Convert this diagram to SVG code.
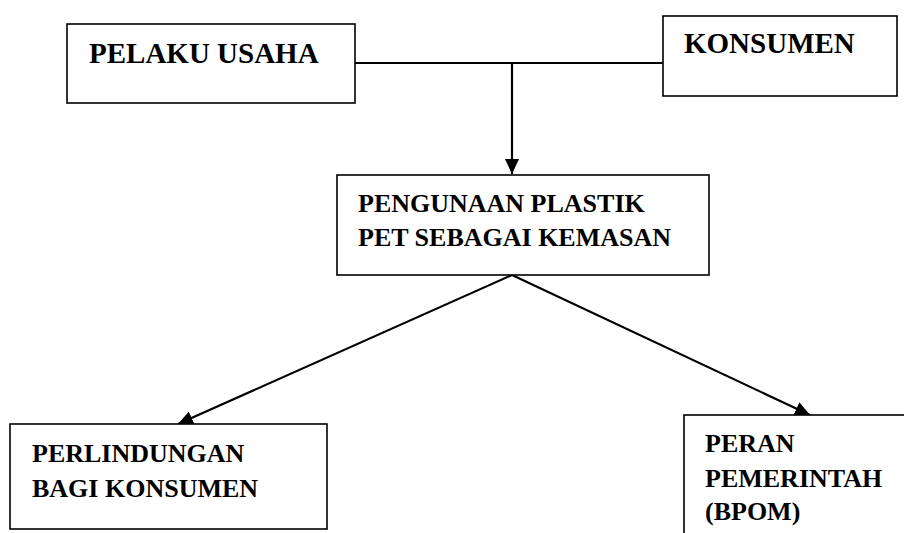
<svg xmlns="http://www.w3.org/2000/svg" width="904" height="533" viewBox="0 0 904 533">
<defs>
<style>
.box{fill:#fff;stroke:#000;stroke-width:1.6}
.t{font-family:"Liberation Serif","Times New Roman",serif;font-weight:bold;fill:#000}
.c{fill:none;stroke:#000;stroke-width:2.2}
</style>
<marker id="ah" viewBox="0 0 15 14" refX="15" refY="7" markerWidth="15" markerHeight="14" markerUnits="userSpaceOnUse" orient="auto">
<path d="M0,0 L15,7 L0,14 Z" fill="#000"/>
</marker>
</defs>
<rect width="904" height="533" fill="#fff"/>
<g id="connectors">
<line class="c" x1="355" y1="63" x2="663" y2="63"/>
<line class="c" x1="512" y1="63" x2="512" y2="174" marker-end="url(#ah)"/>
<line class="c" x1="512" y1="275" x2="178" y2="424" marker-end="url(#ah)"/>
<line class="c" x1="512" y1="275" x2="810" y2="415" marker-end="url(#ah)"/>
</g>
<g id="pelaku">
<rect class="box" x="67" y="24" width="288" height="79"/>
<text class="t" x="89" y="63" font-size="29">PELAKU USAHA</text>
</g>
<g id="konsumen">
<rect class="box" x="663" y="16" width="234" height="80"/>
<text class="t" x="684" y="53" font-size="29">KONSUMEN</text>
</g>
<g id="penggunaan">
<rect class="box" x="337" y="175" width="372" height="100"/>
<text class="t" x="358" y="212" font-size="26">PENGUNAAN PLASTIK</text>
<text class="t" x="358" y="246" font-size="26">PET SEBAGAI KEMASAN</text>
</g>
<g id="perlindungan">
<rect class="box" x="10" y="424" width="317" height="105"/>
<text class="t" x="32" y="462" font-size="26">PERLINDUNGAN</text>
<text class="t" x="32" y="497" font-size="26">BAGI KONSUMEN</text>
</g>
<g id="peran">
<rect class="box" x="684" y="415" width="240" height="140"/>
<text class="t" x="705" y="452" font-size="26">PERAN</text>
<text class="t" x="705" y="487" font-size="26">PEMERINTAH</text>
<text class="t" x="705" y="520" font-size="26">(BPOM)</text>
</g>
</svg>
